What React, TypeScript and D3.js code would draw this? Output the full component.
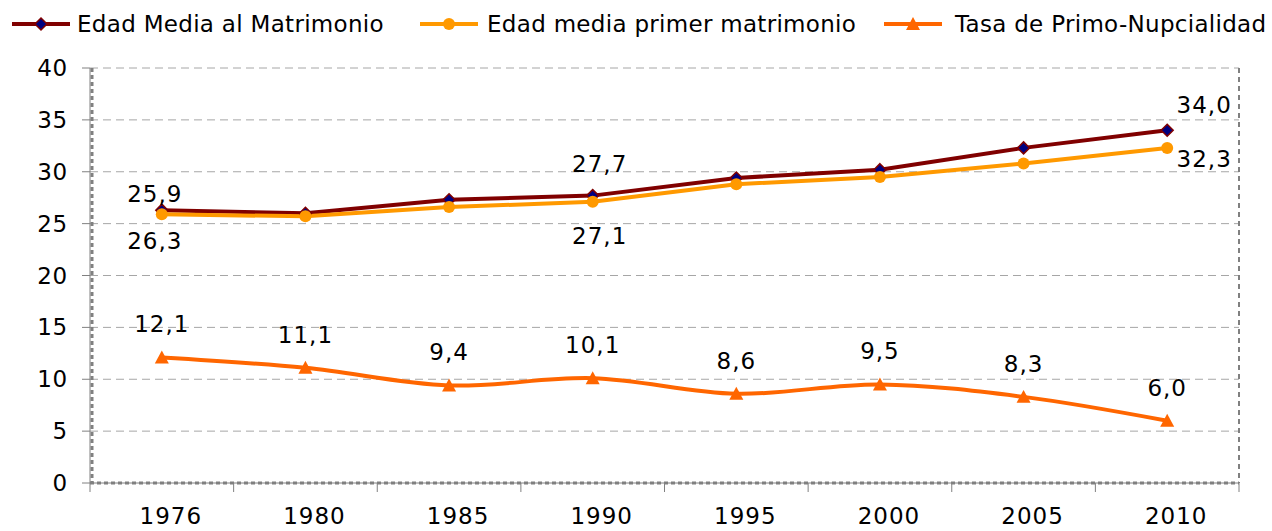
import React from "react";
import * as d3 from "d3";

const years = ["1976", "1980", "1985", "1990", "1995", "2000", "2005", "2010"];
const edadMedia = [26.3, 26.0, 27.3, 27.7, 29.4, 30.2, 32.3, 34.0];
const edadPrimer = [25.9, 25.7, 26.6, 27.1, 28.8, 29.5, 30.8, 32.3];
const tasaPrimo = [12.1, 11.1, 9.4, 10.1, 8.6, 9.5, 8.3, 6.0];
const yTicks = [0, 5, 10, 15, 20, 25, 30, 35, 40];
const seriesNames = ["Edad Media al Matrimonio", "Edad media primer matrimonio", "Tasa de Primo-Nupcialidad"];

// label placement (style only): [index, dx, dy]
const mediaLabels: [number, number, number][] = [[0, -7, 39], [3, 7, -24], [7, 37, -17]];
const primerLabels: [number, number, number][] = [[0, -7, -12], [3, 7, 42], [7, 37, 19]];

const W = 1272, H = 531;
const left = 90, right = 1239, top = 68, bottom = 483;
const FONT = "Verdana, 'DejaVu Sans', sans-serif";
const fmt = (v: number) => v.toFixed(1).replace(".", ",");

export default function App() {
  const x = d3.scaleBand<string>().domain(years).range([left, right]);
  const cx = (i: number) => (x(years[i]) as number) + x.bandwidth() / 2;
  const y = d3.scaleLinear().domain([0, 40]).range([bottom, top]);

  const straight = d3.line<number>().x((_, i) => cx(i)).y((v) => y(v));
  const smooth = d3.line<number>().x((_, i) => cx(i)).y((v) => y(v)).curve(d3.curveCatmullRom.alpha(0));

  const diamond = (px: number, py: number, s = 6) =>
    `M${px},${py - s}L${px + s},${py}L${px},${py + s}L${px - s},${py}Z`;
  const tri = (px: number, py: number, s = 7) =>
    `M${px},${py - s}L${px + s},${py + s * 0.85}L${px - s},${py + s * 0.85}Z`;

  const boundaries = years.map((yr) => x(yr) as number).concat([right]);

  const legend = [
    { lx: 12, tx: 77, color: "#800000", marker: "diamond" },
    { lx: 420, tx: 487, color: "#FF9900", marker: "circle" },
    { lx: 884, tx: 955, color: "#FF6600", marker: "tri" },
  ];

  return (
    <svg width={W} height={H} style={{ position: "absolute", left: 0, top: 0, background: "#fff" }} fontFamily={FONT}>
      {yTicks.filter((t) => t > 0).map((t) => (
        <line key={t} x1={left} x2={right} y1={y(t)} y2={y(t)} stroke="#A6A6A6" strokeWidth={1} strokeDasharray="8,5" />
      ))}
      <line x1={right} x2={right} y1={top} y2={bottom} stroke="#808080" strokeWidth={2} strokeDasharray="5,4" />
      <line x1={left + 2} x2={left + 2} y1={top} y2={bottom} stroke="#808080" strokeWidth={3} strokeDasharray="4,3" />
      <line x1={left} x2={right} y1={bottom} y2={bottom} stroke="#808080" strokeWidth={3} strokeDasharray="4,3" />
      <line x1={left} x2={left} y1={top} y2={bottom} stroke="#808080" strokeWidth={1} />
      <line x1={left} x2={right} y1={bottom} y2={bottom} stroke="#808080" strokeWidth={1} />
      {yTicks.map((t) => (
        <g key={t}>
          <line x1={left - 8} x2={left} y1={y(t)} y2={y(t)} stroke="#808080" strokeWidth={1} />
          <text x={68} y={y(t) + 8} textAnchor="end" fontSize={23} letterSpacing={0.8} fill="#000">{t}</text>
        </g>
      ))}
      {boundaries.map((b, i) => (
        <line key={i} x1={b} x2={b} y1={bottom} y2={bottom + 9} stroke="#808080" strokeWidth={1} />
      ))}
      {years.map((yr, i) => (
        <text key={yr} x={cx(i) + 9} y={524} textAnchor="middle" fontSize={23} letterSpacing={1} fill="#000">{yr}</text>
      ))}

      <path d={straight(edadMedia) as string} fill="none" stroke="#800000" strokeWidth={4} />
      <path d={straight(edadPrimer) as string} fill="none" stroke="#FF9900" strokeWidth={4} />
      <path d={smooth(tasaPrimo) as string} fill="none" stroke="#FF6600" strokeWidth={4} />

      {edadMedia.map((v, i) => (
        <path key={"m" + i} d={diamond(cx(i), y(v))} fill="#000080" stroke="#800000" strokeWidth={1.5} />
      ))}
      {edadPrimer.map((v, i) => (
        <circle key={"p" + i} cx={cx(i)} cy={y(v)} r={6} fill="#FF9900" />
      ))}
      {tasaPrimo.map((v, i) => (
        <path key={"t" + i} d={tri(cx(i), y(v))} fill="#FF6600" />
      ))}

      {tasaPrimo.map((v, i) => (
        <text key={"tl" + i} x={cx(i)} y={y(v) - 25} textAnchor="middle" fontSize={23} letterSpacing={1} fill="#000">{fmt(v)}</text>
      ))}
      {mediaLabels.map(([i, dx, dy]) => (
        <text key={"ml" + i} x={cx(i) + dx} y={y(edadMedia[i]) + dy} textAnchor="middle" fontSize={23} letterSpacing={1} fill="#000">{fmt(edadMedia[i])}</text>
      ))}
      {primerLabels.map(([i, dx, dy]) => (
        <text key={"pl" + i} x={cx(i) + dx} y={y(edadPrimer[i]) + dy} textAnchor="middle" fontSize={23} letterSpacing={1} fill="#000">{fmt(edadPrimer[i])}</text>
      ))}

      {legend.map((l, k) => (
        <g key={k}>
          <line x1={l.lx} x2={l.lx + 58} y1={24} y2={24} stroke={l.color} strokeWidth={4} />
          {l.marker === "diamond" && <path d={diamond(l.lx + 29, 24)} fill="#000080" stroke="#800000" strokeWidth={1.5} />}
          {l.marker === "circle" && <circle cx={l.lx + 29} cy={24} r={6} fill={l.color} />}
          {l.marker === "tri" && <path d={tri(l.lx + 29, 24)} fill={l.color} />}
          <text x={l.tx} y={32} fontSize={23} letterSpacing={0.3} fill="#000">{seriesNames[k]}</text>
        </g>
      ))}
    </svg>
  );
}
